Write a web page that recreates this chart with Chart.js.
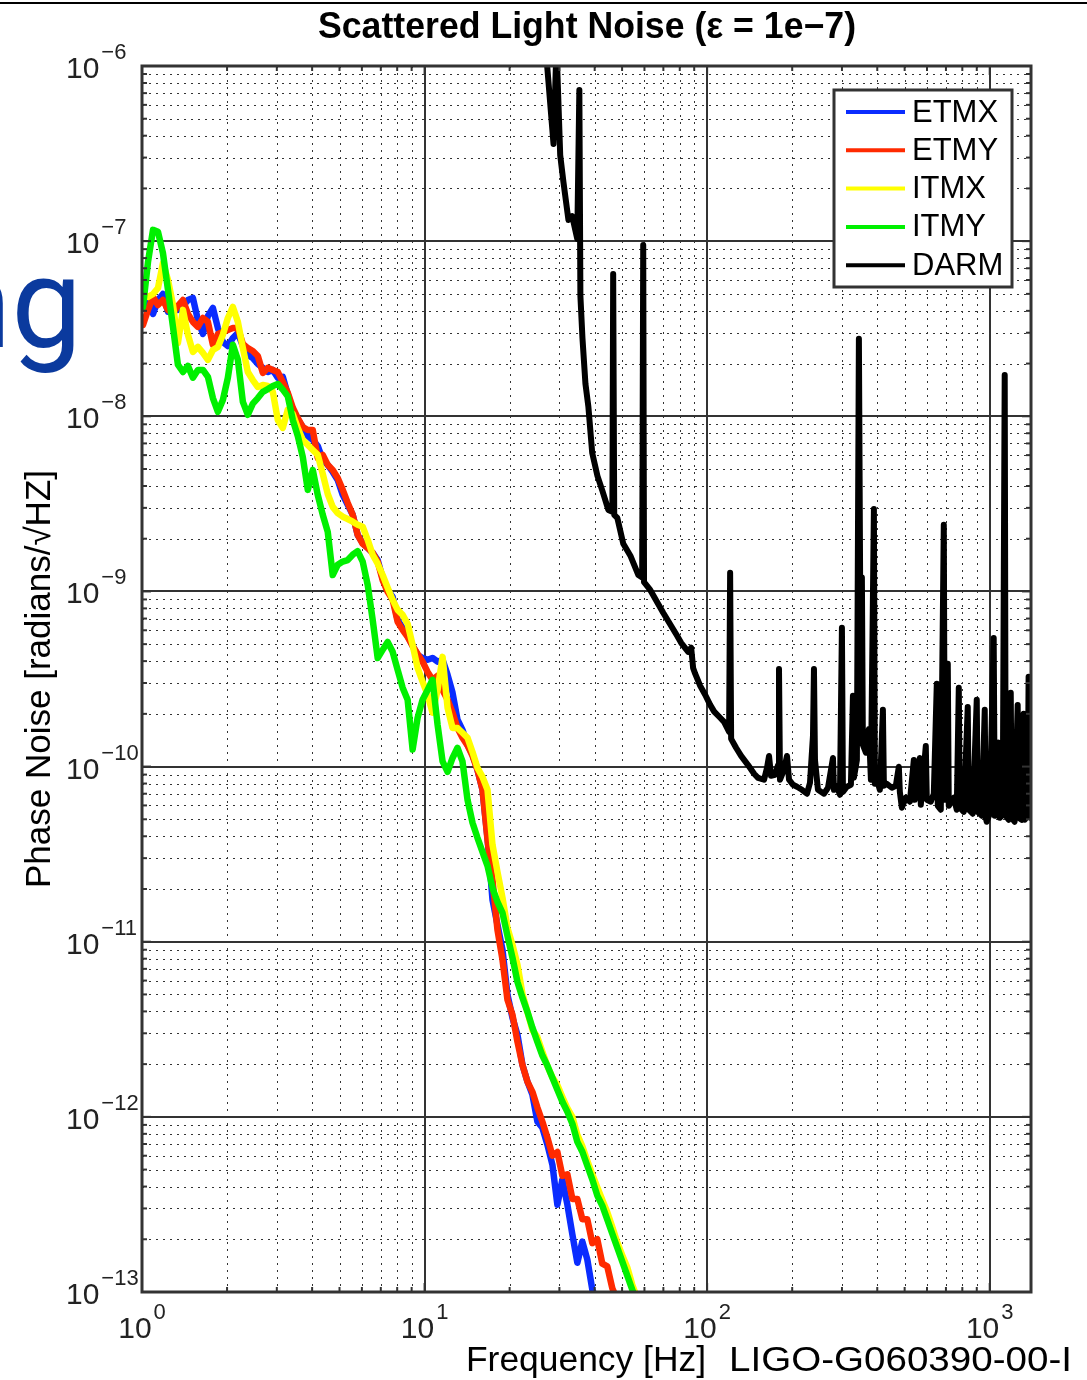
<!DOCTYPE html>
<html>
<head>
<meta charset="utf-8">
<title>Scattered Light Noise</title>
<script src="https://cdn.jsdelivr.net/npm/chart.js@4.4.0/dist/chart.umd.min.js"></script>
<style>
    html, body { margin: 0; padding: 0; background: #fff; }
    #lienzo { position: relative; width: 1087px; height: 1380px; overflow: hidden; }
    #grafico { position: absolute; left: 0; top: 0; }
    #resto { position: absolute; right: 1005px; top: 241px; font-family: Roboto, "DejaVu Sans", sans-serif;
             font-size: 126px; line-height: 126px; color: #0b3a9e; white-space: nowrap; }
</style>
</head>
<body>
<div id="lienzo">
    <canvas id="grafico" width="1087" height="1380"></canvas>
    <div id="resto">ng</div>
</div>
<script>
// ejes (exponentes de las decadas)
const decadasX = [0, 1, 2, 3];
const decadasY = [-13, -12, -11, -10, -9, -8, -7, -6];

const nombres = ["ETMX", "ETMY", "ITMX", "ITMY", "DARM"];
const colores = ["#0a2cff", "#ff2a00", "#ffff00", "#00f000", "#000000"];

// frecuencias comunes de las masas de prueba [Hz]
const frecuencias = [
    1.008, 1.050, 1.094, 1.139, 1.186, 1.236, 1.287, 1.340, 1.396, 1.454,
    1.514, 1.577, 1.643, 1.711, 1.782, 1.856, 1.933, 2.013, 2.097, 2.184,
    2.275, 2.369, 2.467, 2.570, 2.677, 2.788, 2.904, 3.024, 3.150, 3.281,
    3.417, 3.559, 3.707, 3.861, 4.021, 4.188, 4.362, 4.543, 4.731, 4.928,
    5.133, 5.346, 5.568, 5.799, 6.040, 6.291, 6.552, 6.824, 7.107, 7.402,
    7.710, 8.030, 8.363, 8.710, 9.072, 9.448, 9.840, 10.25, 10.67, 11.12,
    11.58, 12.06, 12.56, 13.08, 13.62, 14.19, 14.78, 15.39, 16.03, 16.70,
    17.39, 18.11, 18.87, 19.65, 20.47, 21.32, 22.20, 23.12, 24.08, 25.08,
    26.12, 27.21, 28.34, 29.51, 30.74, 32.02, 33.35, 34.73, 36.17, 37.67,
    39.24, 40.87, 42.56, 44.33, 46.17, 48.09, 50.09, 52.17, 54.33, 56.59
];

const etmx = [
    4.21e-8, 4.61e-8, 3.84e-8, 4.61e-8, 4.99e-8, 3.95e-8, 4.27e-8, 4.05e-8, 4.27e-8, 4.61e-8,
    4.74e-8, 3.55e-8, 2.95e-8, 3.74e-8, 4.15e-8, 3.19e-8, 2.66e-8, 2.52e-8, 2.80e-8, 2.99e-8,
    2.52e-8, 2.24e-8, 2.15e-8, 1.99e-8, 1.89e-8, 1.79e-8, 1.84e-8, 1.66e-8, 1.68e-8, 1.33e-8,
    1.05e-8, 9.53e-9, 8.69e-9, 7.72e-9, 7.33e-9, 6.77e-9, 5.63e-9, 5.28e-9, 4.81e-9, 4.33e-9,
    3.56e-9, 3.12e-9, 2.74e-9, 2.10e-9, 1.89e-9, 1.77e-9, 1.66e-9, 1.51e-9, 1.19e-9, 1.02e-9,
    9.31e-10, 6.88e-10, 6.19e-10, 5.58e-10, 4.89e-10, 4.34e-10, 4.17e-10, 4.07e-10, 4.17e-10, 3.97e-10,
    4.07e-10, 3.34e-10, 2.64e-10, 1.85e-10, 1.62e-10, 1.33e-10, 1.17e-10, 9.58e-11, 7.37e-11, 3.92e-11,
    1.74e-11, 1.25e-11, 8.99e-12, 4.98e-12, 3.68e-12, 2.94e-12, 1.98e-12, 1.59e-12, 1.34e-12, 9.38e-13,
    8.67e-13, 6.93e-13, 5.33e-13, 3.15e-13, 4.38e-13, 3.15e-13, 2.13e-13, 1.47e-13, 1.94e-13, 1.53e-13,
    1.03e-13, 8.8e-14, null, null, null, null, null, null, null, null
];

const etmy = [
    3.32e-8, 4.05e-8, 4.80e-8, 4.32e-8, 4.61e-8, 4.05e-8, 3.89e-8, 4.27e-8, 4.61e-8, 3.84e-8,
    3.46e-8, 3.24e-8, 3.64e-8, 3.46e-8, 2.56e-8, 2.95e-8, 3.03e-8, 3.11e-8, 3.19e-8, 3.19e-8,
    2.59e-8, 2.45e-8, 2.36e-8, 2.21e-8, 1.77e-8, 1.89e-8, 1.84e-8, 1.79e-8, 1.57e-8, 1.36e-8,
    1.12e-8, 9.77e-9, 8.69e-9, 8.35e-9, 8.35e-9, 5.78e-9, 6.02e-9, 5.28e-9, 4.94e-9, 4.44e-9,
    3.80e-9, 3.20e-9, 2.74e-9, 2.10e-9, 1.87e-9, 1.77e-9, 1.66e-9, 1.48e-9, 1.16e-9, 9.94e-10,
    8.95e-10, 6.70e-10, 6.03e-10, 5.50e-10, 4.89e-10, 4.40e-10, 3.97e-10, 3.47e-10, 3.13e-10, 3.30e-10,
    2.74e-10, 2.41e-10, 2.03e-10, 1.66e-10, 1.46e-10, 1.32e-10, 1.15e-10, 9.58e-11, 7.37e-11, 3.82e-11,
    2.26e-11, 1.17e-11, 7.89e-12, 4.66e-12, 3.83e-12, 2.68e-12, 1.98e-12, 1.59e-12, 1.39e-12, 1.13e-12,
    9.38e-13, 7.60e-13, 6.00e-13, 6.30e-13, 4.60e-13, 4.70e-13, 3.40e-13, 3.40e-13, 2.60e-13, 2.60e-13,
    1.90e-13, 2.00e-13, 1.45e-13, 1.40e-13, 1.05e-13, 9.0e-14, null, null, null, null
];

const itmx = [
    5.06e-8, 4.80e-8, 4.99e-8, 5.40e-8, 7.50e-8, 6.00e-8, 4.32e-8, 2.62e-8, 4.05e-8, 2.92e-8,
    2.33e-8, 2.49e-8, 2.30e-8, 2.10e-8, 2.39e-8, 2.49e-8, 2.92e-8, 3.64e-8, 4.21e-8, 3.46e-8,
    2.45e-8, 1.79e-8, 1.61e-8, 1.47e-8, 1.51e-8, 1.49e-8, 1.38e-8, 9.53e-9, 8.58e-9, 1.09e-8,
    1.03e-8, 8.58e-9, 7.33e-9, 6.86e-9, 6.42e-9, 6.02e-9, 4.69e-9, 3.60e-9, 3.04e-9, 2.80e-9,
    2.67e-9, 2.59e-9, 2.50e-9, 2.40e-9, 2.34e-9, 1.97e-9, 1.62e-9, 1.44e-9, 1.24e-9, 1.05e-9,
    8.95e-10, 7.85e-10, 7.35e-10, 6.53e-10, 4.95e-10, 3.66e-10, 3.05e-10, 2.57e-10, 2.03e-10, 2.74e-10,
    4.23e-10, 2.17e-10, 1.66e-10, 1.66e-10, 1.56e-10, 1.46e-10, 1.21e-10, 9.83e-11, 8.74e-11, 7.37e-11,
    3.58e-11, 2.51e-11, 1.78e-11, 1.20e-11, 9.60e-12, 7.38e-12, 5.04e-12, 3.98e-12, 3.14e-12, 2.85e-12,
    2.35e-12, 1.95e-12, 1.68e-12, 1.52e-12, 1.30e-12, 1.12e-12, 1.00e-12, 7.90e-13, 6.80e-13, 5.60e-13,
    4.70e-13, 3.95e-13, 3.35e-13, 2.85e-13, 2.35e-13, 1.92e-13, 1.62e-13, 1.38e-13, 1.10e-13, 9.2e-14
];

const itmy = [
    4.21e-8, 7.60e-8, 1.16e-7, 1.13e-7, 8.56e-8, 5.26e-8, 3.24e-8, 1.97e-8, 1.79e-8, 1.94e-8,
    1.66e-8, 1.84e-8, 1.84e-8, 1.68e-8, 1.27e-8, 1.06e-8, 1.24e-8, 1.66e-8, 2.56e-8, 2.10e-8,
    1.21e-8, 1.02e-8, 1.18e-8, 1.27e-8, 1.38e-8, 1.43e-8, 1.49e-8, 1.53e-8, 1.42e-8, 1.30e-8,
    9.53e-9, 7.72e-9, 5.86e-9, 3.80e-9, 4.94e-9, 3.56e-9, 2.74e-9, 2.19e-9, 1.24e-9, 1.42e-9,
    1.48e-9, 1.51e-9, 1.62e-9, 1.70e-9, 1.48e-9, 1.09e-9, 6.88e-10, 4.17e-10, 4.64e-10, 5.15e-10,
    4.52e-10, 3.57e-10, 2.82e-10, 2.41e-10, 1.25e-10, 1.90e-10, 2.41e-10, 2.74e-10, 3.13e-10, 1.73e-10,
    1.07e-10, 9.33e-11, 1.12e-10, 1.28e-10, 1.07e-10, 6.46e-11, 4.78e-11, 3.92e-11, 3.26e-11, 2.71e-11,
    2.03e-11, 1.69e-11, 1.46e-11, 1.08e-11, 8.09e-12, 5.89e-12, 4.79e-12, 3.98e-12, 3.23e-12, 2.68e-12,
    2.24e-12, 1.96e-12, 1.67e-12, 1.43e-12, 1.22e-12, 1.07e-12, 9.14e-13, 7.20e-13, 6.32e-13, 5.26e-13,
    4.38e-13, 3.55e-13, 3.11e-13, 2.59e-13, 2.15e-13, 1.79e-13, 1.49e-13, 1.24e-13, 1.03e-13, 8.6e-14
];

// DARM: frecuencia propia (lineas espectrales incluidas)
const darmFrec = [
    26.8, 28.6, 29.3, 30.2, 31.0, 32.3, 33.3, 34.7, 35.3, 35.6,
    36.2, 37.1, 38.0, 39.2, 40.9, 42.6, 44.7, 46.2, 46.5, 46.9,
    48.1, 50.5, 53.5, 57.1, 58.9, 59.4, 59.8, 62.9, 69.9, 78.3,
    80.9, 85.7, 87.8, 89.2, 90.7, 94.5, 98.4, 102.5, 105.9, 111.2,
    114.8, 119.6, 120.6, 121.6, 126.6, 131.9, 139.6, 146.6, 151.4, 159.0,
    162.9, 165.6, 168.3, 173.9, 178.2, 179.6, 181.1, 187.1, 191.7, 194.9,
    201.4, 208.0, 216.6, 225.6, 231.2, 236.9, 238.8, 240.8, 246.7, 259.1,
    267.7, 278.8, 281.1, 288.0, 295.1, 299.9, 302.4, 312.4, 322.7, 328.1,
    330.7, 338.8, 344.4, 350.1, 352.9, 355.8, 364.6, 373.6, 379.8, 389.2,
    392.3, 398.7, 408.6, 418.8, 422.2, 432.5, 450.5, 465.4, 476.9, 480.8,
    488.7, 504.9, 521.6, 538.8, 543.3, 565.8, 570.4, 594.1, 599.0, 618.8,
    634.1, 649.7, 655.1, 671.3, 687.9, 693.4, 710.6, 716.4, 746.2, 764.6,
    777.3, 783.6, 809.5, 836.2, 843.0, 871.0, 899.8, 907.1, 937.1, 960.3,
    968.1, 975.9, 1000, 1033, 1042, 1076, 1085, 1112, 1130, 1139,
    1167, 1187, 1196, 1225, 1256, 1266, 1297, 1319, 1330, 1362,
    1373, 1384, 1396
];
const darm = [
    1.3e-6, 3.59e-7, 1.3e-6, 3.10e-7, 2.18e-7, 1.32e-7, 1.39e-7, 1.03e-7, 7.3e-7, 4.87e-8,
    2.80e-8, 1.53e-8, 1.13e-8, 6.18e-9, 4.57e-9, 3.75e-9, 2.92e-9, 2.85e-9, 6.50e-8, 2.74e-9,
    2.63e-9, 1.87e-9, 1.60e-9, 1.24e-9, 1.20e-9, 9.51e-8, 1.13e-9, 1.02e-9, 7.55e-10, 5.58e-10,
    5.09e-10, 4.52e-10, 4.77e-10, 3.66e-10, 3.39e-10, 2.89e-10, 2.57e-10, 2.25e-10, 2.06e-10, 1.90e-10,
    1.80e-10, 1.58e-10, 1.28e-9, 1.44e-10, 1.28e-10, 1.15e-10, 1.02e-10, 9.10e-11, 8.63e-11, 8.41e-11,
    9.84e-11, 1.15e-10, 8.86e-11, 8.98e-11, 1.02e-10, 3.61e-10, 8.41e-11, 9.59e-11, 1.15e-10, 8.41e-11,
    7.87e-11, 7.67e-11, 7.37e-11, 7.00e-11, 8.08e-11, 1.50e-10, 3.61e-10, 1.09e-10, 7.37e-11, 7.00e-11,
    7.57e-11, 1.12e-10, 7.37e-11, 7.67e-11, 6.90e-11, 6.20e-10, 7.18e-11, 7.67e-11, 7.87e-11, 2.54e-10,
    8.63e-11, 1.09e-10, 2.77e-8, 1.52e-10, 1.20e-9, 1.33e-10, 1.20e-10, 1.64e-10, 8.41e-11, 2.96e-9,
    7.97e-11, 8.41e-11, 7.37e-11, 2.11e-10, 7.77e-11, 7.97e-11, 7.57e-11, 7.77e-11, 9.97e-11, 7.18e-11,
    5.82e-11, 6.64e-11, 6.30e-11, 1.09e-10, 6.46e-11, 1.12e-10, 6.05e-11, 1.31e-10, 6.46e-11, 6.30e-11,
    7.00e-11, 2.97e-10, 5.97e-11, 5.67e-11, 2.40e-9, 6.46e-11, 3.86e-10, 5.97e-11, 6.64e-11, 5.67e-11,
    2.82e-10, 5.82e-11, 5.52e-11, 2.19e-10, 5.67e-11, 5.38e-11, 2.41e-10, 5.52e-11, 5.24e-11, 2.11e-10,
    5.10e-11, 4.84e-11, 5.38e-11, 5.43e-10, 5.24e-11, 1.37e-10, 5.10e-11, 5.31e-11, 1.72e-8, 5.24e-11,
    4.97e-11, 2.64e-10, 5.10e-11, 4.84e-11, 2.25e-10, 5.10e-11, 4.97e-11, 2.00e-10, 4.97e-11, 5.24e-11,
    3.26e-10, 5.31e-11, 5.10e-11
];

const FUENTE = '"Liberation Sans", Arial, Helvetica, sans-serif';

function linea(ctx, x1, y1, x2, y2){
    ctx.beginPath();
    ctx.moveTo(x1, y1);
    ctx.lineTo(x2, y2);
    ctx.stroke();
}

function menores(decadas, max){
    let r = [];
    decadas.forEach(e => {
        for (let m = 2; m <= 9; m++){
            let v = m * Math.pow(10, e);
            if (v < max) r.push(v);
        }
    });
    return r;
}

// texto estirado en x hasta el ancho que tiene en la figura original
function textoAncho(ctx, texto, x0, y0, ancho){
    let w = ctx.measureText(texto).width;
    ctx.save();
    ctx.translate(x0, y0);
    ctx.scale(ancho / w, 1);
    ctx.textAlign = 'left';
    ctx.fillText(texto, 0, 0);
    ctx.restore();
}

// grilla, marco, ticks y textos al estilo matlab
const ejesMatlab = {
    id: 'ejesMatlab',
    beforeDatasetsDraw(chart){
        const {ctx, chartArea: a, scales: {x, y}} = chart;
        ctx.save();
        ctx.beginPath();
        ctx.rect(a.left, a.top, a.right - a.left, a.bottom - a.top);
        ctx.clip();
        ctx.strokeStyle = '#333';
        ctx.lineWidth = 1;
        ctx.setLineDash([2, 5]);
        menores(decadasX, x.max).forEach(v => {
            let p = Math.round(x.getPixelForValue(v)) + 0.5;
            linea(ctx, p, a.top, p, a.bottom);
        });
        menores(decadasY, y.max).forEach(v => {
            let p = Math.round(y.getPixelForValue(v)) + 0.5;
            linea(ctx, a.left, p, a.right, p);
        });
        ctx.setLineDash([]);
        ctx.strokeStyle = '#333';
        ctx.lineWidth = 2;
        decadasX.forEach(e => {
            let p = Math.round(x.getPixelForValue(Math.pow(10, e)));
            linea(ctx, p, a.top, p, a.bottom);
        });
        decadasY.forEach(e => {
            let p = Math.round(y.getPixelForValue(Math.pow(10, e)));
            linea(ctx, a.left, p, a.right, p);
        });
        ctx.restore();
    },
    afterDatasetsDraw(chart){
        const {ctx, chartArea: a, scales: {x, y}} = chart;
        ctx.save();
        ctx.strokeStyle = '#333';
        ctx.lineWidth = 2;
        // ticks hacia adentro en los cuatro lados
        menores(decadasX, x.max).forEach(v => {
            let p = x.getPixelForValue(v);
            linea(ctx, p, a.bottom, p, a.bottom - 5);
            linea(ctx, p, a.top, p, a.top + 5);
        });
        menores(decadasY, y.max).forEach(v => {
            let p = y.getPixelForValue(v);
            linea(ctx, a.left, p, a.left + 5, p);
            linea(ctx, a.right, p, a.right - 5, p);
        });
        decadasX.forEach(e => {
            let p = x.getPixelForValue(Math.pow(10, e));
            linea(ctx, p, a.bottom, p, a.bottom - 9);
            linea(ctx, p, a.top, p, a.top + 9);
        });
        decadasY.forEach(e => {
            let p = y.getPixelForValue(Math.pow(10, e));
            linea(ctx, a.left, p, a.left + 9, p);
            linea(ctx, a.right, p, a.right - 9, p);
        });
        ctx.lineWidth = 3;
        ctx.strokeRect(a.left, a.top, a.right - a.left, a.bottom - a.top);

        // leyenda
        let lx = a.right - 197, ly = a.top + 24, lw = 178, lh = 197;
        ctx.fillStyle = '#fff';
        ctx.fillRect(lx, ly, lw, lh);
        ctx.strokeStyle = '#333';
        ctx.lineWidth = 3;
        ctx.strokeRect(lx, ly, lw, lh);
        ctx.font = '31px ' + FUENTE;
        ctx.textBaseline = 'middle';
        ctx.textAlign = 'left';
        chart.data.datasets.forEach((d, i) => {
            let fy = ly + 22 + i * 38.3;
            ctx.strokeStyle = d.borderColor;
            ctx.lineWidth = 4;
            linea(ctx, lx + 12, fy, lx + 71, fy);
            ctx.fillStyle = '#000';
            ctx.fillText(d.label, lx + 78, fy + 1);
        });
        ctx.restore();
    },
    afterDraw(chart){
        const {ctx, chartArea: a, scales: {x, y}} = chart;
        ctx.save();
        ctx.fillStyle = '#000';
        ctx.fillRect(0, 2, chart.width, 2);

        ctx.fillStyle = '#222';
        ctx.textBaseline = 'alphabetic';
        ctx.textAlign = 'left';
        // etiquetas eje x
        decadasX.forEach(e => {
            let p = x.getPixelForValue(Math.pow(10, e));
            ctx.font = '30px ' + FUENTE;
            let w1 = ctx.measureText('10').width;
            ctx.font = '22px ' + FUENTE;
            let w2 = ctx.measureText(String(e)).width;
            let x0 = p - (w1 + w2 + 2) / 2;
            ctx.font = '30px ' + FUENTE;
            ctx.fillText('10', x0, 1338);
            ctx.font = '22px ' + FUENTE;
            ctx.fillText(String(e), x0 + w1 + 2, 1319);
        });
        // etiquetas eje y
        decadasY.forEach(e => {
            let p = y.getPixelForValue(Math.pow(10, e));
            ctx.font = '30px ' + FUENTE;
            let w1 = ctx.measureText('10').width;
            ctx.fillText('10', 66, p + 12);
            ctx.font = '22px ' + FUENTE;
            ctx.fillText('\u2212' + Math.abs(e), 66 + w1 + 2, p - 7);
        });

        ctx.fillStyle = '#000';
        // titulo
        ctx.font = 'bold 36px ' + FUENTE;
        textoAncho(ctx, 'Scattered Light Noise (\u03b5 = 1e\u22127)', 318, 38, 538);
        // eje x
        ctx.font = '35px ' + FUENTE;
        textoAncho(ctx, 'Frequency [Hz]', 466, 1371, 240);
        textoAncho(ctx, 'LIGO-G060390-00-I', 729, 1371, 343);
        // eje y
        ctx.translate(50, (a.top + a.bottom) / 2);
        ctx.rotate(-Math.PI / 2);
        ctx.textAlign = 'center';
        ctx.font = '35px ' + FUENTE;
        ctx.fillText('Phase Noise [radians/\u221aHZ]', 0, 0);
        ctx.restore();
    }
};

function serie(i, orden, ancho, xs, ys){
    let puntos = [];
    xs.forEach((f, k) => {
        if (ys[k] !== null) puntos.push({x: f, y: ys[k]});
    });
    return {
        label: nombres[i],
        borderColor: colores[i],
        backgroundColor: colores[i],
        borderWidth: ancho,
        order: orden,
        clip: 0,
        data: puntos
    };
}

new Chart(document.getElementById("grafico"), {
    type: 'line',
    data: {
        datasets: [
            serie(0, 5, 6.5, frecuencias, etmx),
            serie(1, 4, 6.5, frecuencias, etmy),
            serie(2, 3, 6.5, frecuencias, itmx),
            serie(3, 2, 6.5, frecuencias, itmy),
            serie(4, 1, 6, darmFrec, darm)
        ]
    },
    options: {
        responsive: false,
        animation: false,
        devicePixelRatio: 1,
        layout: { padding: { left: 142, right: 56, top: 66, bottom: 88 } },
        plugins: { legend: { display: false }, tooltip: { enabled: false } },
        elements: {
            point: { radius: 0 },
            line: { tension: 0, borderJoinStyle: 'round', borderCapStyle: 'round' }
        },
        scales: {
            x: { type: 'logarithmic', min: 1, max: 1400, display: false },
            y: { type: 'logarithmic', min: 1e-13, max: 1e-6, display: false }
        }
    },
    plugins: [ejesMatlab]
});
</script>
</body>
</html>
